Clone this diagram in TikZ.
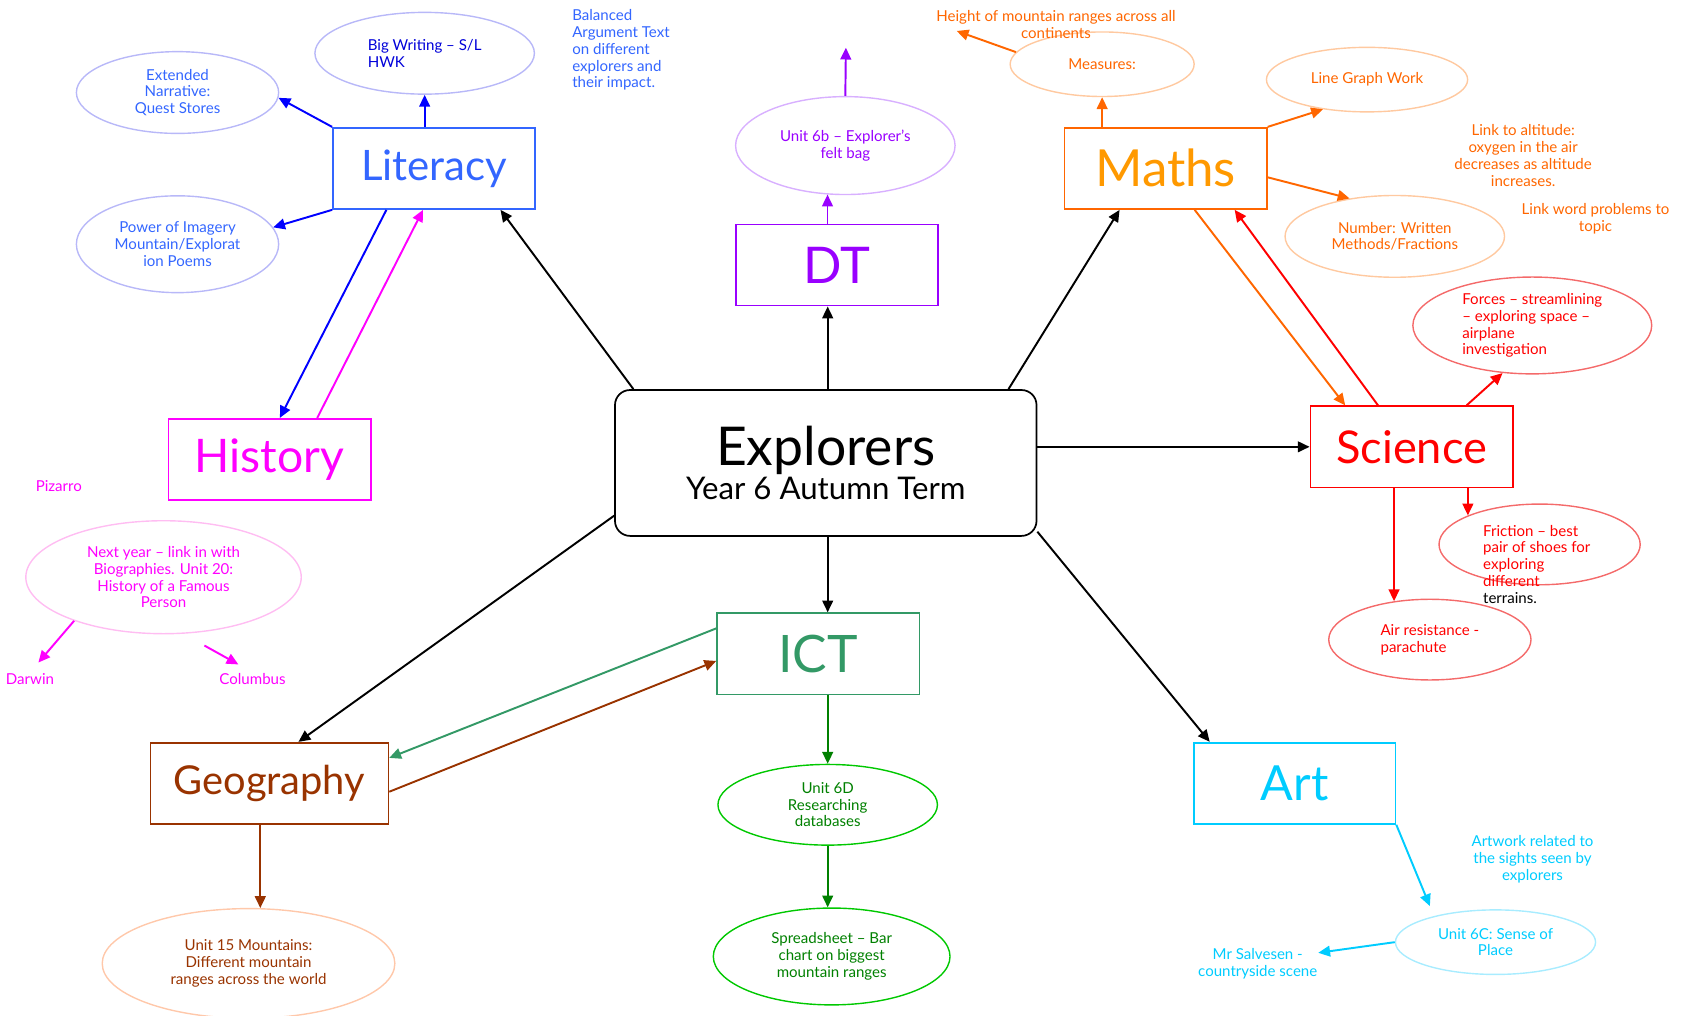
\documentclass[tikz,border=0pt]{standalone}
\usepackage{fontspec}
\setmainfont{Lato}
\usetikzlibrary{arrows.meta,shapes.geometric}
\definecolor{litblue}{HTML}{3366FF}
\definecolor{deepblue}{HTML}{0000FF}
\definecolor{litring}{HTML}{B8B8F8}
\definecolor{histpink}{HTML}{FF00FF}
\definecolor{histring}{HTML}{FFBDF2}
\definecolor{dtpurple}{HTML}{9900FF}
\definecolor{dtring}{HTML}{D8B0FF}
\definecolor{mathorange}{HTML}{FF6600}
\definecolor{mathgold}{HTML}{FF9900}
\definecolor{mathring}{HTML}{FFC9A0}
\definecolor{sciring}{HTML}{F46A6A}
\definecolor{ictgreen}{HTML}{339966}
\definecolor{dbgreen}{HTML}{008000}
\definecolor{dbring}{HTML}{00C800}
\definecolor{geobrown}{HTML}{993300}
\definecolor{georing}{HTML}{FFC8AA}
\definecolor{artcyan}{HTML}{00CCFF}
\definecolor{artring}{HTML}{A8ECFF}
\newcommand\ideafont{\fontsize{14}{15.6}\selectfont}
\newcommand\headfont[1]{\fontsize{#1}{#1}\selectfont}

\begin{document}
\begin{tikzpicture}[x=1pt,y=-1pt,line width=1.8pt,>={Triangle[length=11pt,width=10pt]},
  topic/.style={draw,line width=1.6pt,inner sep=0pt,minimum width=188pt,minimum height=75.5pt},
  idea/.style={ellipse,draw,line width=1.3pt,inner sep=0pt,align=center,font=\ideafont},
  note/.style={inner sep=0pt,align=center,font=\ideafont}]
\useasboundingbox (0,0) rectangle (1568,944);
\coordinate (spine) at (769.3,0);
% ---------- centre ----------
\node[draw,rounded corners=14pt,line width=1.6pt,minimum width=391.8pt,minimum height=135.6pt,align=center]
  (cen) at (767.5,430.3) {\headfont{49.7}Explorers\\[2pt]\fontsize{29}{29}\selectfont Year 6 Autumn Term};
% ---------- subject boxes ----------
\node[topic,draw=litblue,text=litblue,font=\headfont{39}] (lit) at (403.5,156.5) {Literacy};
\node[topic,draw=histpink,text=histpink,font=\headfont{43}] (hist) at (250.5,427) {History};
\node[topic,draw=dtpurple,text=dtpurple,font=\headfont{47}] (dt) at (777.8,246.3) {DT};
\node[topic,draw=mathorange,text=mathgold,font=\headfont{47.5}] (maths) at (1083.4,156.5) {Maths};
\node[topic,draw=red,text=red,font=\headfont{42}] (sci) at (1312,415.3) {Science};
\node[topic,draw=ictgreen,text=ictgreen,font=\headfont{48}] (ict) at (760.5,607.7) {ICT};
\node[topic,draw=geobrown,text=geobrown,minimum width=221.2pt,font=\headfont{37}] (geo) at (250.4,728.1) {Geography};
\node[topic,draw=artcyan,text=artcyan,minimum width=187.2pt,font=\headfont{45}] (art) at (1203.4,728) {Art};
% ---------- literacy ideas ----------
\node[idea,draw=litring,text=litblue,minimum width=188pt,minimum height=76pt] (ext) at (165,86) {Extended\\Narrative:\\Quest Stores};
\node[idea,draw=litring,text=deepblue!85!black,align=left,minimum width=204pt,minimum height=76pt] (big) at (394.7,49.5) {Big Writing – S/L\\HWK};
\node[idea,draw=litring,text=litblue,minimum width=188pt,minimum height=90pt] (pow) at (165,227) {Power of Imagery\\Mountain/Explorat\\ion Poems};
\node[note,text=litblue,align=left,anchor=north west] (bal) at (531,8) {Balanced\\Argument Text\\on different\\explorers and\\their impact.};
% ---------- history ideas ----------
\node[note,text=histpink] (piz) at (54.7,451.7) {Pizarro};
\node[idea,draw=histring,text=histpink,minimum width=256pt,minimum height=105pt] (next) at (152,536.5) {Next year – link in with\\Biographies. Unit 20:\\History of a Famous\\Person};
\node[note,text=histpink,anchor=east] (darwin) at (51.1,631) {Darwin};
\node[note,text=histpink] (colmb) at (234.7,631) {Columbus};
\coordinate (colstart) at (190,600);
% ---------- DT ideas ----------
\node[idea,draw=dtring,text=dtpurple,minimum width=204pt,minimum height=91pt] (u6b) at (785.7,135.3) {Unit 6b – Explorer’s\\felt bag};
\coordinate (dtup) at (786.2,44.3);
% ---------- maths ideas ----------
\node[idea,draw=mathring,text=mathorange,minimum width=171pt,minimum height=60pt] (meas) at (1024.4,59.7) {Measures:};
\node[note,text=mathorange] (hgt) at (981.5,23) {Height of mountain ranges across all\\continents};
\coordinate (hgt-tip) at (889.2,28.8);
\node[idea,draw=mathring,text=mathorange,minimum width=187pt,minimum height=60pt] (lg) at (1270.6,74) {Line Graph Work};
\node[idea,draw=mathring,text=mathorange,minimum width=204pt,minimum height=76pt] (num) at (1296.4,219.7) {Number: Written\\Methods/Fractions};
\node[note,text=mathorange] (alt) at (1415.7,144.5) {Link to altitude:\\oxygen in the air\\decreases as altitude\\increases.};
\node[note,text=mathorange] (wrd) at (1483,203.5) {Link word problems to\\topic};
% ---------- science ideas ----------
\node[idea,draw=sciring,text=red,align=left,minimum width=222pt,minimum height=90pt] (forc) at (1424.2,302.5) {Forces – streamlining\\– exploring space –\\airplane\\investigation};
\node[idea,draw=sciring,minimum width=187pt,minimum height=75pt] (fric) at (1431,506) {};
\node[note,text=red,align=left,anchor=north west] (fric-txt) at (1377.6,487) {Friction – best\\pair of shoes for\\exploring\\different\\\textcolor{black}{terrains.}};
\node[idea,draw=sciring,text=red,align=left,minimum width=188pt,minimum height=75pt] (air) at (1329,594.5) {Air resistance -\\parachute};
% ---------- ICT ideas ----------
\node[idea,draw=dbring,text=dbgreen,minimum width=204pt,minimum height=75pt] (sixd) at (769.3,748) {Unit 6D\\Researching\\databases};
\node[idea,draw=dbring,text=dbgreen,minimum width=220pt,minimum height=90pt] (spread) at (773,889) {Spreadsheet – Bar\\chart on biggest\\mountain ranges};
% ---------- geography ideas ----------
\node[idea,draw=georing,text=geobrown,minimum width=272pt,minimum height=102pt] (u15) at (231,895.5) {Unit 15 Mountains:\\Different mountain\\ranges across the world};
% ---------- art ideas ----------
\node[idea,draw=artring,text=artcyan,minimum width=186pt,minimum height=60pt] (u6c) at (1390,875.7) {Unit 6C: Sense of\\Place};
\node[note,text=artcyan] (artw) at (1424.4,798.8) {Artwork related to\\the sights seen by\\explorers};
\node[note,text=artcyan] (salv) at (1169,895.5) {Mr Salvesen -\\countryside scene};
% ---------- spokes from centre ----------
\draw[->] (cen.159) -- (lit.-32);
\draw[->] (spine |- cen.north) -- (spine |- dt.south);
\draw[->] (cen.22) -- (maths.222);
\draw[->] (cen.east |- sci.west) -- (sci.west);
\draw[->] (cen.-18) -- (art.154);
\draw[->] (spine |- cen.south) -- (spine |- ict.north);
\draw[->] (cen.194) -- (geo.55);
% ---------- literacy links ----------
\draw[->,deepblue] (lit.north west) -- (ext.-3);
\draw[->,deepblue] (big.south |- lit.north) -- (big.south);
\draw[->,deepblue] (lit.south west) -- (pow.10);
\draw[->,deepblue] (lit.221) -- (hist.76);
\draw[->,histpink] (hist.41) -- (lit.-105);
% ---------- history links ----------
\draw[->,histpink,shorten >=12pt] (next.206) -- (darwin.north);
\draw[->,histpink,shorten >=15pt] (colstart) -- (colmb.north);
% ---------- DT links ----------
\draw[->,dtpurple] (u6b.250 |- dt.north) -- (u6b.250);
\draw[->,dtpurple] (u6b.north) -- (dtup);
% ---------- maths links ----------
\draw[->,mathorange] (meas.south |- maths.north) -- (meas.south);
\draw[->,mathorange] (meas.172) -- (hgt-tip);
\draw[->,mathorange] (maths.north east) -- (lg.214);
\draw[->,mathorange] (maths.-5) -- (num.140);
\draw[->,mathorange] (maths.-55) -- (sci.148);
\draw[->,red] (sci.129) -- (maths.-31);
% ---------- science links ----------
\draw[->,red] (sci.37) -- (forc.238);
\draw[->,red] (fric.158 |- sci.south) -- (fric.158);
\draw[->,red] (air.133 |- sci.south) -- (air.133);
% ---------- ICT / geography links ----------
\draw[->,ictgreen] (ict.166) -- (geo.12);
\draw[->,geobrown] (geo.-4) -- (ict.184);
\draw[->,dbgreen] (sixd.north |- ict.south) -- (sixd.north);
\draw[->,dbgreen] (sixd.south) -- (sixd.south |- spread.north);
\draw[->,geobrown] (u15.78 |- geo.south) -- (u15.78);
% ---------- art links ----------
\draw[->,artcyan,shorten >=10pt] (art.south east) -- (u6c.157);
\draw[->,artcyan] (u6c.west) -- (salv.10);
\end{tikzpicture}
\end{document}
